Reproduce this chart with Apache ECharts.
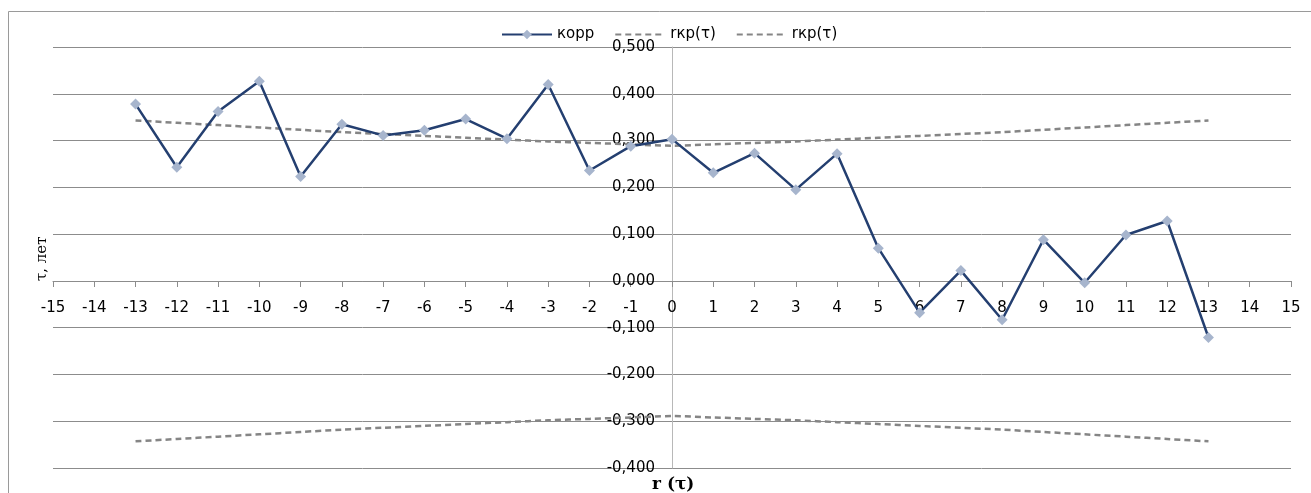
<!DOCTYPE html>
<html>
<head>
<meta charset="utf-8">
<script src="https://cdn.jsdelivr.net/npm/echarts@6/dist/echarts.min.js"></script>
<style>
  html, body { margin: 0; padding: 0; background: #ffffff; }
  #chart { width: 1311px; height: 493px; }
</style>
</head>
<body>
<div id="chart"></div>
<script>
// Lags (x values)
const lags = [-13, -12, -11, -10, -9, -8, -7, -6, -5, -4, -3, -2, -1, 0, 1, 2, 3, 4, 5, 6, 7, 8, 9, 10, 11, 12, 13];
// Correlation coefficient "корр"
const corr = [0.378, 0.243, 0.362, 0.427, 0.223, 0.335, 0.311, 0.322, 0.346, 0.304, 0.420, 0.236, 0.288, 0.303,
              0.231, 0.273, 0.195, 0.272, 0.070, -0.068, 0.022, -0.083, 0.088, -0.004, 0.098, 0.128, -0.121];
// Upper critical value rкр(τ)
const rkrUpper = [0.343, 0.338, 0.333, 0.328, 0.323, 0.318, 0.314, 0.310, 0.306, 0.302, 0.298, 0.295, 0.292, 0.289,
                  0.292, 0.295, 0.298, 0.302, 0.306, 0.310, 0.314, 0.318, 0.323, 0.328, 0.333, 0.338, 0.343];
// Lower critical value rкр(τ)
const rkrLower = [-0.343, -0.338, -0.333, -0.328, -0.323, -0.318, -0.314, -0.310, -0.306, -0.302, -0.298, -0.295, -0.292, -0.289,
                  -0.292, -0.295, -0.298, -0.302, -0.306, -0.310, -0.314, -0.318, -0.323, -0.328, -0.333, -0.338, -0.343];

const seriesNames = ['корр', 'rкр(τ)', 'rкр(τ) '];
const xTitle = 'r (τ)';
const yTitle = 'τ, лет';

const X_MIN = -15, X_MAX = 15, Y_MIN = -0.4, Y_MAX = 0.5;

const pair = (ys) => lags.map((x, i) => [x, ys[i]]);

const W = 1311, H = 493;
const G = { left: 53, right: 20, top: 47, bottom: 25 };
const gw = W - G.left - G.right, gh = H - G.top - G.bottom;
// shift axes so they cross at zero (labels follow the lines)
const xAxisOffset = -Math.round((0 - Y_MIN) / (Y_MAX - Y_MIN) * gh);
const yAxisOffset = -Math.round((0 - X_MIN) / (X_MAX - X_MIN) * gw);

const chart = echarts.init(document.getElementById('chart'), null, { renderer: 'canvas' });
const font = 'DejaVu Sans';
chart.setOption({
  animation: false,
  backgroundColor: '#ffffff',
  grid: Object.assign({ containLabel: false, outerBoundsMode: 'none' }, G),
  legend: {
    top: 22,
    left: 496,
    itemWidth: 50,
    itemHeight: 12,
    itemGap: 20,
    textStyle: { fontFamily: font, fontSize: 15, color: '#000000' },
    formatter: (n) => n.trim(),
    data: [
      { name: seriesNames[0] },
      { name: seriesNames[1], itemStyle: { opacity: 0 } },
      { name: seriesNames[2], itemStyle: { opacity: 0 } }
    ]
  },
  xAxis: {
    type: 'value',
    position: 'bottom',
    offset: xAxisOffset,
    min: X_MIN, max: X_MAX, interval: 1,
    axisLine: { onZero: false, lineStyle: { color: '#8c8c8c', width: 1 } },
    axisTick: { show: true, length: 6, inside: false, lineStyle: { color: '#8c8c8c' } },
    axisLabel: { fontFamily: font, fontSize: 15, color: '#000000', margin: 20, hideOverlap: false },
    splitLine: { show: false }
  },
  yAxis: {
    type: 'value',
    position: 'left',
    offset: yAxisOffset,
    min: Y_MIN, max: Y_MAX, interval: 0.1,
    axisLine: { show: true, onZero: false, lineStyle: { color: '#b8b8b8', width: 1 } },
    axisTick: { show: false },
    axisLabel: {
      fontFamily: font, fontSize: 15, color: '#000000', margin: 17, hideOverlap: false,
      formatter: (v) => (Math.abs(v) < 1e-9 ? 0 : v).toFixed(3).replace('.', ',')
    },
    splitLine: { show: true, lineStyle: { color: '#8c8c8c', width: 1 } }
  },
  graphic: [
    { type: 'line', silent: true, shape: { x1: 8.5, y1: 11.5, x2: 8.5, y2: 493 }, style: { stroke: '#9a9a9a', lineWidth: 1 } },
    { type: 'line', silent: true, shape: { x1: 8.5, y1: 11.5, x2: 1311, y2: 11.5 }, style: { stroke: '#9a9a9a', lineWidth: 1 } },
    { type: 'text', left: 652, top: 476, style: { text: xTitle, font: 'bold 17px "DejaVu Serif"', fill: '#000000' } },
    { type: 'text', x: 35, y: 281, rotation: Math.PI / 2, style: { text: yTitle, font: '15px "DejaVu Serif"', fill: '#000000', textAlign: 'left', textVerticalAlign: 'top' } }
  ],
  series: [
    {
      name: seriesNames[0], type: 'line', data: pair(corr), z: 5,
      lineStyle: { color: '#243f70', width: 2.5 },
      itemStyle: { color: '#a7b5cd' },
      symbol: 'diamond', symbolSize: 11, showSymbol: true
    },
    {
      name: seriesNames[1], type: 'line', data: pair(rkrUpper), z: 3,
      lineStyle: { color: '#858585', width: 2.5, type: [6, 4] },
      itemStyle: { color: '#858585' },
      symbol: 'none', smooth: 0.3
    },
    {
      name: seriesNames[2], type: 'line', data: pair(rkrLower), z: 3,
      lineStyle: { color: '#858585', width: 2.5, type: [6, 4] },
      itemStyle: { color: '#858585' },
      symbol: 'none', smooth: 0.3
    }
  ]
});
</script>
</body>
</html>
